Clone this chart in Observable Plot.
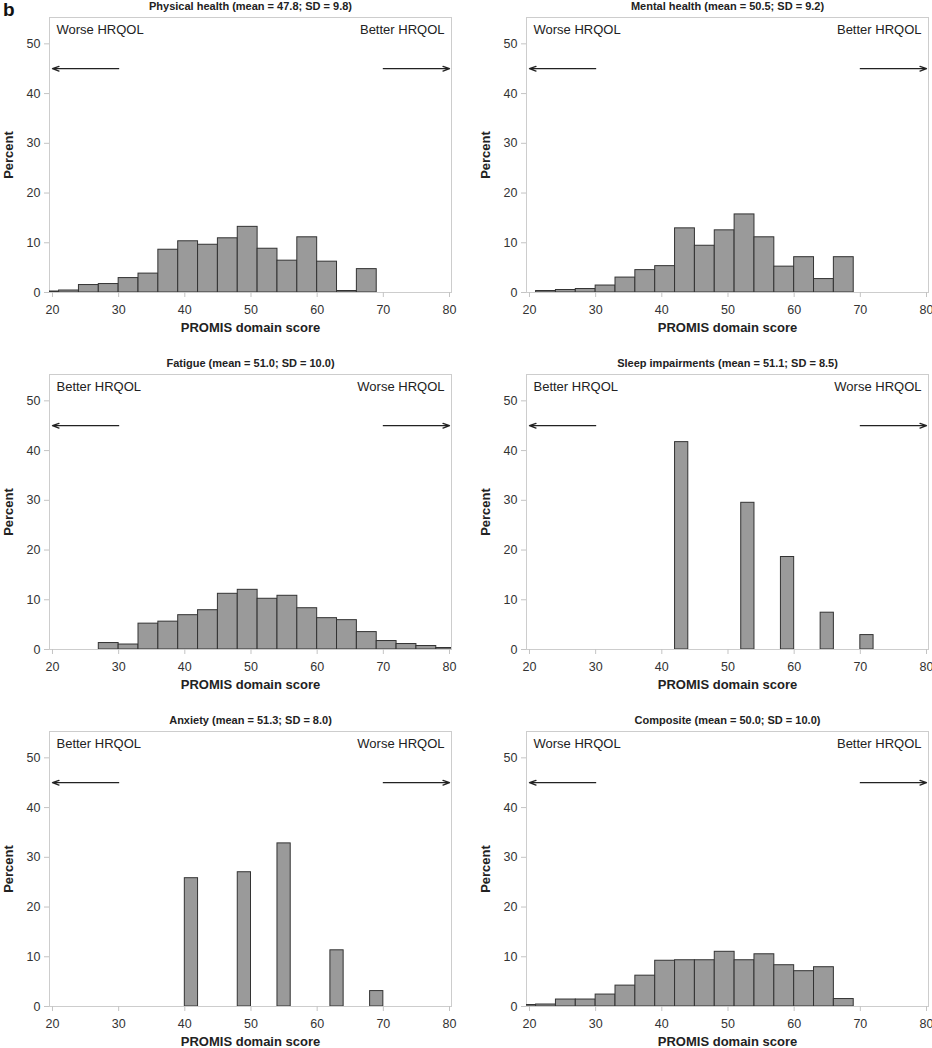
<!DOCTYPE html>
<html><head><meta charset="utf-8">
<script src="https://cdn.jsdelivr.net/npm/d3@7"></script>
<script src="https://cdn.jsdelivr.net/npm/@observablehq/plot@0.6"></script>
<style>
html,body{margin:0;padding:0;background:#fff;overflow:hidden;}
#chart{position:relative;width:932px;height:1048px;overflow:hidden;font-family:"Liberation Sans",Arial,sans-serif;background:#fff;}
.panel{position:absolute;width:466px;height:355px;}
.panel svg{max-width:none !important;}
#tag{position:absolute;left:3px;top:-1px;font-weight:bold;font-size:19px;color:#111;z-index:10;}
</style></head><body>
<div id="chart"><div id="tag">b</div></div>
<script>
// ---- axis ticks ----
const xTicks = [20, 30, 40, 50, 60, 70, 80];
const yTicks = [0, 10, 20, 30, 40, 50];

// ---- direction arrows (score units / percent) ----
const arrowFrom = [30, 70];
const arrowTo = [20, 80];
const arrowLevel = [45, 45];

// ---- histogram data (bin lower edge, bin upper edge, percent) ----
const physicalLo  = [18, 21, 24, 27, 30, 33, 36, 39, 42, 45, 48, 51, 54, 57, 60, 63, 66];
const physicalHi  = [21, 24, 27, 30, 33, 36, 39, 42, 45, 48, 51, 54, 57, 60, 63, 66, 69];
const physicalPct = [0.2, 0.4, 1.5, 1.7, 2.9, 3.8, 8.6, 10.3, 9.6, 10.9, 13.2, 8.8, 6.4, 11.1, 6.2, 0.3, 4.7];

const mentalLo  = [21, 24, 27, 30, 33, 36, 39, 42, 45, 48, 51, 54, 57, 60, 63, 66];
const mentalHi  = [24, 27, 30, 33, 36, 39, 42, 45, 48, 51, 54, 57, 60, 63, 66, 69];
const mentalPct = [0.3, 0.5, 0.7, 1.4, 3.0, 4.5, 5.3, 12.9, 9.4, 12.5, 15.7, 11.1, 5.2, 7.1, 2.7, 7.1];

const fatigueLo  = [27, 30, 33, 36, 39, 42, 45, 48, 51, 54, 57, 60, 63, 66, 69, 72, 75, 78];
const fatigueHi  = [30, 33, 36, 39, 42, 45, 48, 51, 54, 57, 60, 63, 66, 69, 72, 75, 78, 81];
const fatiguePct = [1.3, 1.0, 5.2, 5.6, 6.9, 7.9, 11.2, 12.0, 10.2, 10.8, 8.3, 6.3, 5.9, 3.5, 1.7, 1.1, 0.7, 0.3];

const sleepLo  = [42, 52, 58, 64, 70];
const sleepHi  = [44, 54, 60, 66, 72];
const sleepPct = [41.7, 29.5, 18.6, 7.4, 2.9];

const anxietyLo  = [40, 48, 54, 62, 68];
const anxietyHi  = [42, 50, 56, 64, 70];
const anxietyPct = [25.8, 27.0, 32.8, 11.3, 3.1];

const compositeLo  = [18, 21, 24, 27, 30, 33, 36, 39, 42, 45, 48, 51, 54, 57, 60, 63, 66];
const compositeHi  = [21, 24, 27, 30, 33, 36, 39, 42, 45, 48, 51, 54, 57, 60, 63, 66, 69];
const compositePct = [0.3, 0.4, 1.4, 1.4, 2.4, 4.2, 6.2, 9.2, 9.3, 9.3, 11.0, 9.3, 10.5, 8.3, 7.1, 7.9, 1.5];

// ---- panel texts ----
const titles = [
  "Physical health (mean = 47.8; SD = 9.8)",
  "Mental health (mean = 50.5; SD = 9.2)",
  "Fatigue (mean = 51.0; SD = 10.0)",
  "Sleep impairments (mean = 51.1; SD = 8.5)",
  "Anxiety (mean = 51.3; SD = 8.0)",
  "Composite (mean = 50.0; SD = 10.0)"
];
const leftLabels  = ["Worse HRQOL", "Worse HRQOL", "Better HRQOL", "Better HRQOL", "Better HRQOL", "Worse HRQOL"];
const rightLabels = ["Better HRQOL", "Better HRQOL", "Worse HRQOL", "Worse HRQOL", "Worse HRQOL", "Better HRQOL"];
const xLabel = "PROMIS domain score";
const yLabel = "Percent";

const series = [
  [physicalLo, physicalHi, physicalPct],
  [mentalLo, mentalHi, mentalPct],
  [fatigueLo, fatigueHi, fatiguePct],
  [sleepLo, sleepHi, sleepPct],
  [anxietyLo, anxietyHi, anxietyPct],
  [compositeLo, compositeHi, compositePct]
];

const FONT = "'Liberation Sans', Arial, Helvetica, sans-serif";
const chart = document.getElementById("chart");
const colLeft = [0, 477];
const rowTop = [-13, 344, 701];

const arrows = arrowFrom.map((f, i) => ({x1: f, x2: arrowTo[i], y: arrowLevel[i]}));

series.forEach(([lo, hi, pct], i) => {
  const bins = lo.map((l, j) => ({x1: l, x2: hi[j], y: pct[j]}));
  const svg = Plot.plot({
    width: 466,
    height: 355,
    marginTop: 30,
    marginLeft: 49,
    marginRight: 15,
    marginBottom: 50,
    style: {fontFamily: FONT, fontSize: "12px", background: "white", color: "#333", overflow: "visible", maxWidth: "none"},
    x: {domain: [19.55, 80.3]},
    y: {domain: [0, 55.3]},
    marks: [
      Plot.frame({stroke: "#cdcdcd", strokeWidth: 1}),
      Plot.axisX(xTicks, {anchor: "bottom", tickSize: 5, tickPadding: 8, stroke: "#c4c4c4", fill: "#333", fontSize: 12.5, label: null}),
      Plot.axisY(yTicks, {anchor: "left", tickSize: 5, tickPadding: 4, stroke: "#c4c4c4", fill: "#333", fontSize: 12.5, label: null}),
      Plot.rect(bins, {x1: "x1", x2: "x2", y1: 0, y2: "y", fill: "#9a9a9a", stroke: "#333", strokeWidth: 1, clip: true}),
      Plot.arrow(arrows, {x1: "x1", x2: "x2", y1: "y", y2: "y", stroke: "#222", strokeWidth: 1.3, headLength: 8, headAngle: 40}),
      Plot.text([titles[i]], {text: d => d, frameAnchor: "top", dy: -11, lineAnchor: "middle", textAnchor: "middle", fontWeight: "bold", fontSize: 11, fill: "#222"}),
      Plot.text([leftLabels[i]], {text: d => d, frameAnchor: "top-left", dx: 7, dy: 12, lineAnchor: "middle", textAnchor: "start", fontSize: 13, fill: "#222"}),
      Plot.text([rightLabels[i]], {text: d => d, frameAnchor: "top-right", dx: -7, dy: 12, lineAnchor: "middle", textAnchor: "end", fontSize: 13, fill: "#222"}),
      Plot.text([xLabel], {text: d => d, frameAnchor: "bottom", dy: 35, lineAnchor: "middle", textAnchor: "middle", fontWeight: "bold", fontSize: 13, fill: "#222"}),
      Plot.text([yLabel], {text: d => d, frameAnchor: "left", dx: -41, rotate: -90, lineAnchor: "middle", textAnchor: "middle", fontWeight: "bold", fontSize: 13, fill: "#222"})
    ]
  });
  const div = document.createElement("div");
  div.className = "panel";
  div.style.left = colLeft[i % 2] + "px";
  div.style.top = rowTop[Math.floor(i / 2)] + "px";
  div.appendChild(svg);
  chart.appendChild(div);
});
</script>
</body></html>
